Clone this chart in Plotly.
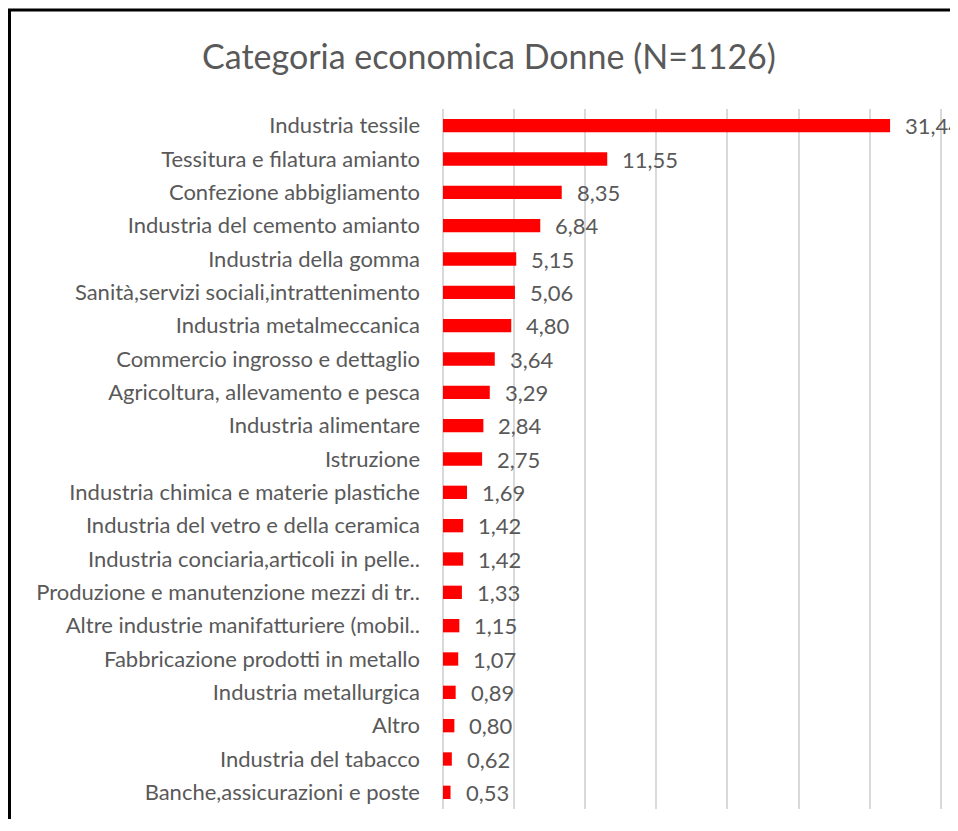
import plotly.graph_objects as go

categories = [
    "Industria tessile",
    "Tessitura e filatura amianto",
    "Confezione abbigliamento",
    "Industria del cemento amianto",
    "Industria della gomma",
    "Sanità,servizi sociali,intrattenimento",
    "Industria metalmeccanica",
    "Commercio ingrosso e dettaglio",
    "Agricoltura, allevamento e pesca",
    "Industria alimentare",
    "Istruzione",
    "Industria chimica e materie plastiche",
    "Industria del vetro e della ceramica",
    "Industria conciaria,articoli in pelle..",
    "Produzione e manutenzione mezzi di tr..",
    "Altre industrie manifatturiere (mobil..",
    "Fabbricazione prodotti in metallo",
    "Industria metallurgica",
    "Altro",
    "Industria del tabacco",
    "Banche,assicurazioni e poste",
]
values = [31.44, 11.55, 8.35, 6.84, 5.15, 5.06, 4.80, 3.64, 3.29, 2.84, 2.75,
          1.69, 1.42, 1.42, 1.33, 1.15, 1.07, 0.89, 0.80, 0.62, 0.53]
labels = [f"{v:.2f}".replace(".", ",") for v in values]

# page has an 8px body margin, so the figure is placed at (8, 8)
OFF = 8
W, H = 958 - 2 * OFF, 831 - 2 * OFF - 4
L = 443 - OFF
T = 109 - OFF
B = H - (809 - OFF)
R = 0
pw, ph = W - L - R, H - T - B

FONT = "Lato"
GREY = "#595959"

fig = go.Figure()
fig.add_trace(go.Bar(
    y=categories, x=values, orientation="h",
    marker=dict(color="#ff0000", line=dict(width=0)),
    width=0.4, hoverinfo="skip",
))

for c, v, t in zip(categories, values, labels):
    fig.add_annotation(x=v, y=c, text=t, xanchor="left", showarrow=False,
                       xshift=13, font=dict(size=22, color=GREY, family=FONT))

# frame (only left and top edges visible in the cropped image)
fx = (9.5 - OFF - L) / pw
fy = (H - B - (10 - OFF)) / ph
fig.add_shape(type="path", xref="paper", yref="paper",
              path=f"M {fx} {-B/ph - 0.05} L {fx} {fy} L {(W + 5 - L)/pw} {fy}",
              line=dict(color="black", width=3), layer="above")

fig.update_layout(
    width=W, height=H,
    margin=dict(l=L, r=R, t=T, b=B, pad=0),
    paper_bgcolor="white", plot_bgcolor="white",
    showlegend=False,
    title=dict(text="Categoria economica Donne (N=1126)",
               x=(489 - OFF) / W, xanchor="center",
               y=1 - (57 - OFF) / H, yanchor="middle",
               font=dict(size=34, color=GREY, family=FONT)),
    font=dict(family=FONT, color=GREY),
)
fig.update_xaxes(range=[0, pw / 14.22], dtick=5, showgrid=True,
                 gridcolor="#d9d9d9", gridwidth=2, showticklabels=False,
                 zeroline=True, zerolinecolor="#d9d9d9", zerolinewidth=2,
                 showline=False, fixedrange=True)
fig.update_yaxes(categoryorder="array", categoryarray=categories[::-1],
                 autorange=False, range=[-0.5, len(categories) - 0.5],
                 tickfont=dict(size=22, color=GREY, family=FONT),
                 ticklabelstandoff=22, showgrid=False, showline=False,
                 ticks="", fixedrange=True)

fig.write_html("out.html")
